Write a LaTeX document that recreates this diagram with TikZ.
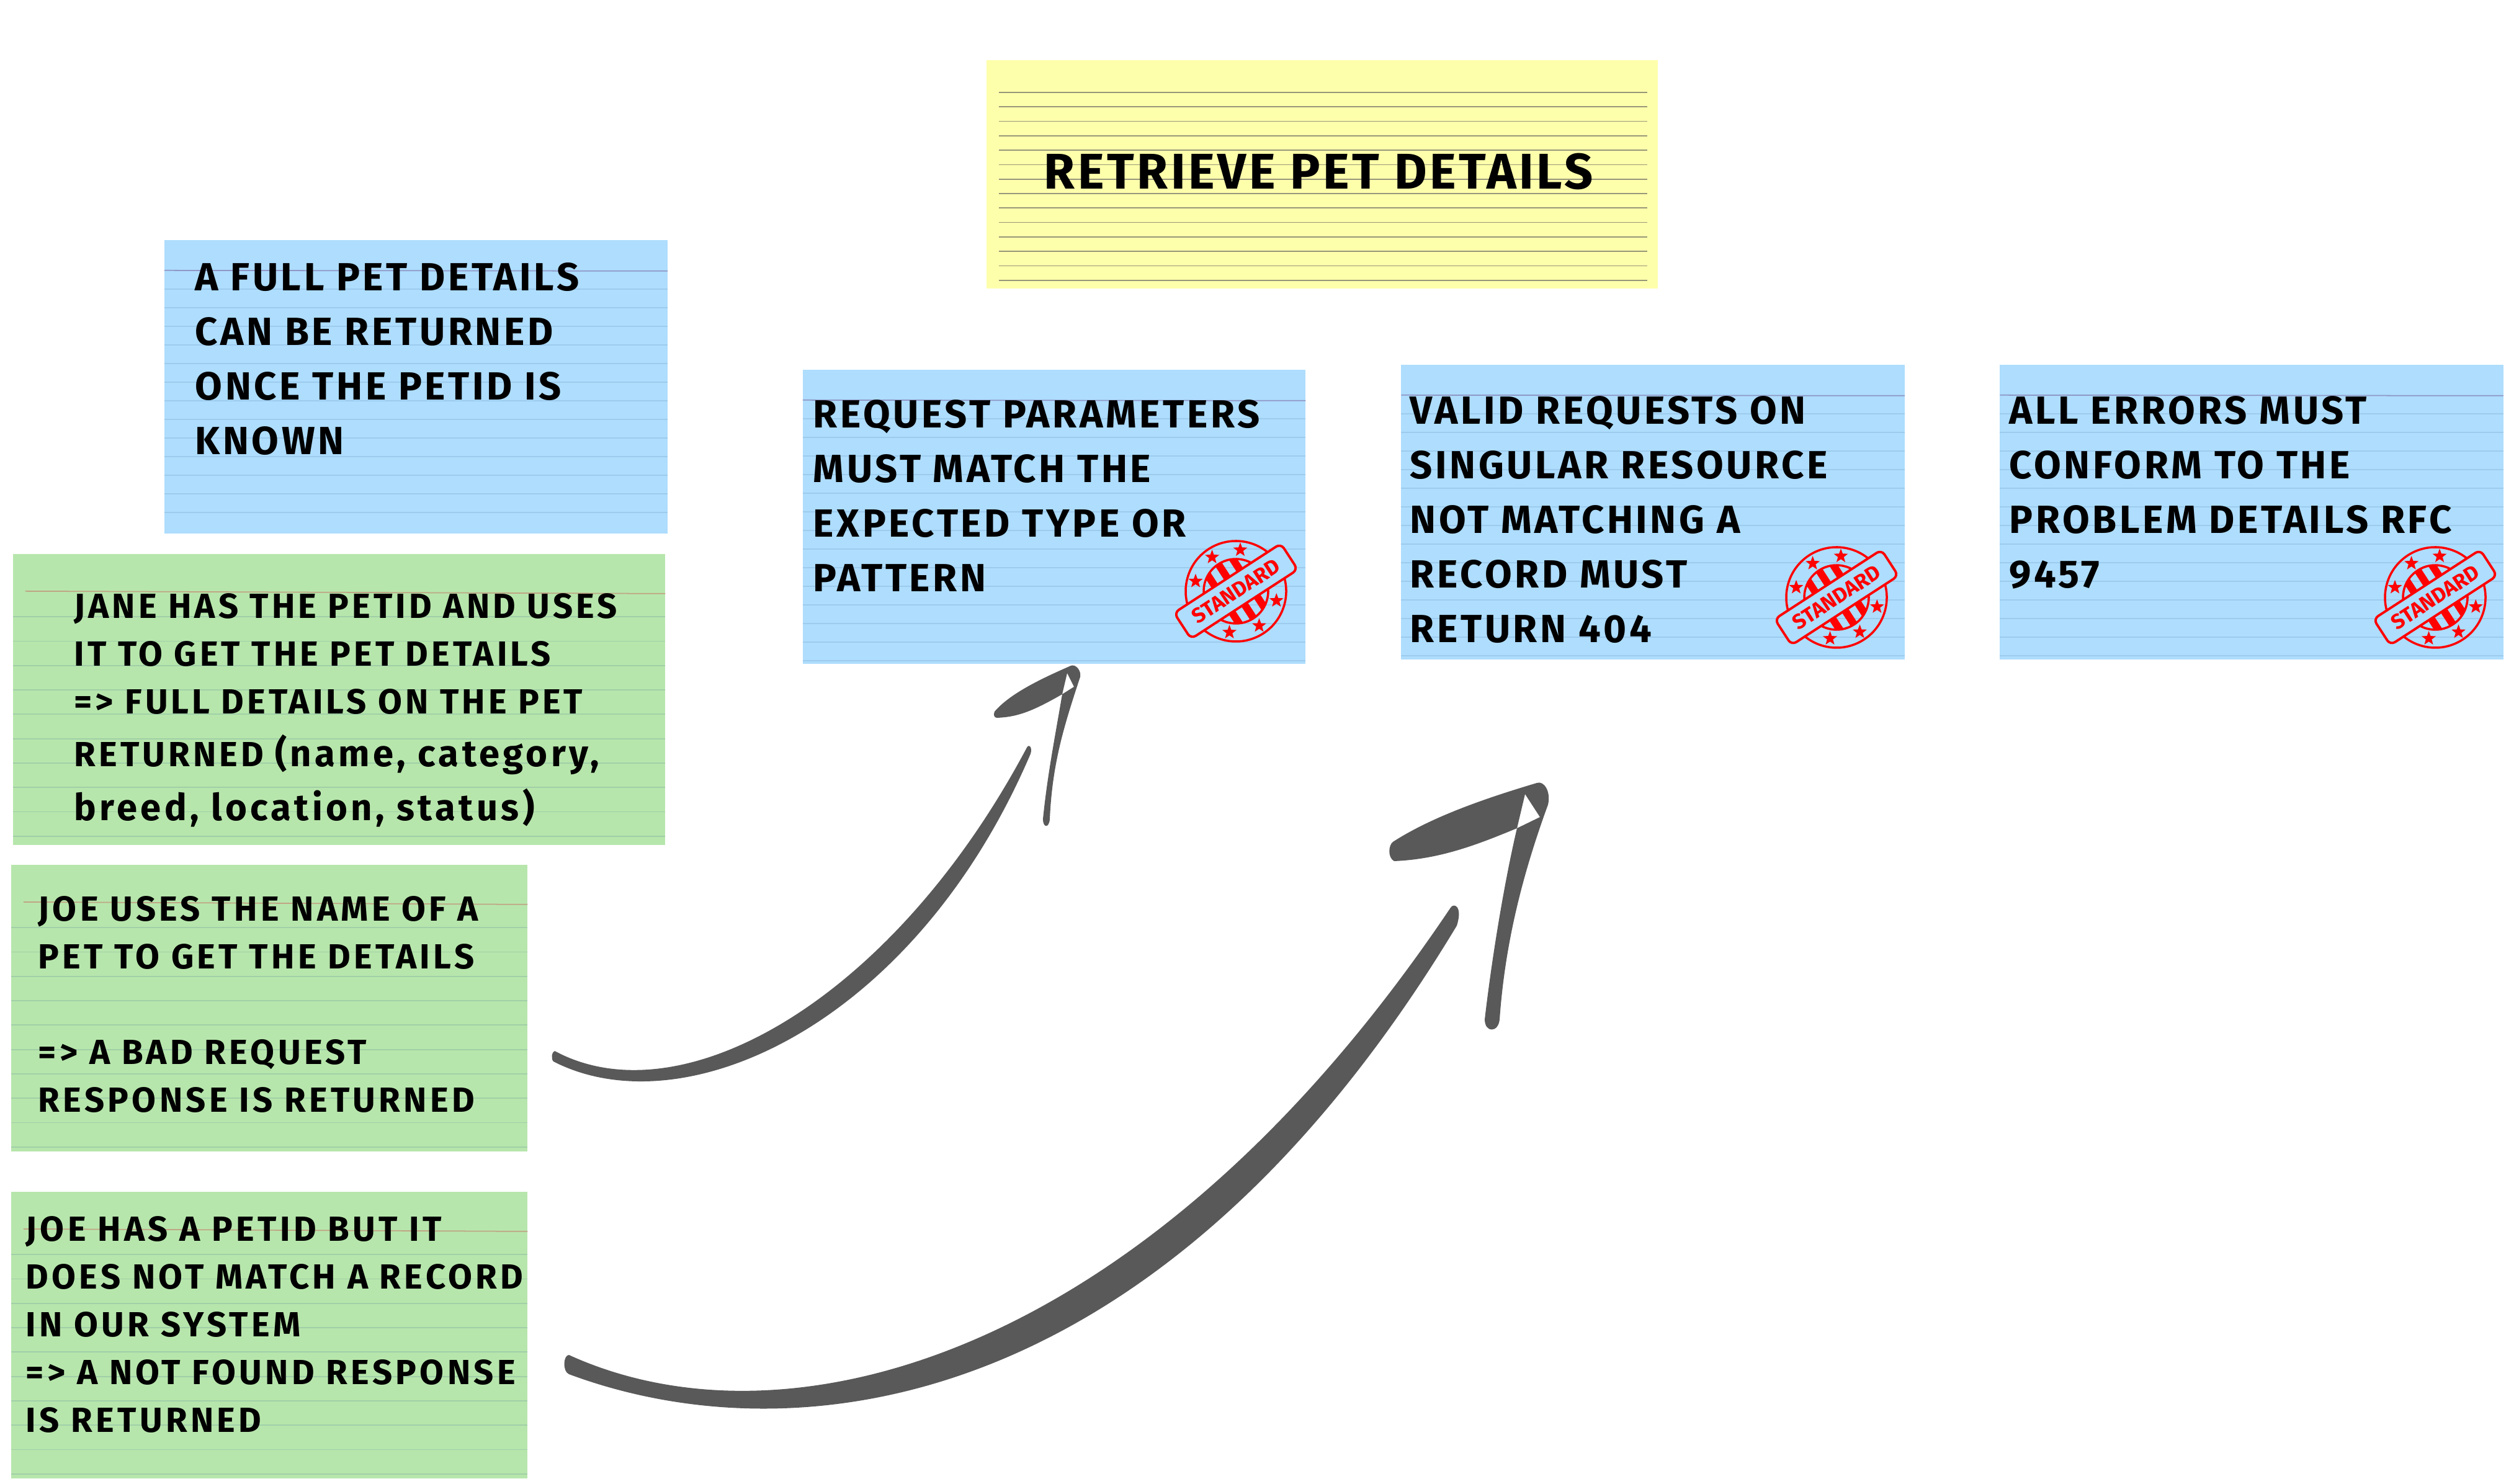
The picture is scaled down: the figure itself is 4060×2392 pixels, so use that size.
\documentclass[tikz,border=0pt]{standalone}
\usepackage{fontspec}
\setmainfont{Fira Sans}
\usetikzlibrary{calc,shapes.geometric}
\definecolor{cardyellow}{HTML}{FEFFAB}
\definecolor{cardyellowline}{HTML}{96967A}
\definecolor{cardblue}{HTML}{AEDDFD}
\definecolor{cardblueline}{HTML}{9CCBEE}
\definecolor{cardbluetop}{HTML}{8F97C6}
\definecolor{cardgreen}{HTML}{B7E6AC}
\definecolor{cardgreenline}{HTML}{A0CFA8}
\definecolor{cardgreentop}{HTML}{BFA584}
\definecolor{arrowgrey}{HTML}{595959}
\definecolor{stampred}{HTML}{FF0000}

\begin{document}
\begin{tikzpicture}[
  x=0.01cm, y=0.01cm,
  bluecard/.style={fill=cardblue, inner sep=0pt, outer sep=0pt, minimum width=8.11cm, minimum height=4.74cm},
  greencard/.style={fill=cardgreen, inner sep=0pt, outer sep=0pt, minimum width=8.32cm, minimum height=4.62cm},
  yellowcard/.style={fill=cardyellow, inner sep=0pt, outer sep=0pt, minimum width=10.82cm, minimum height=3.68cm},
  rule/.style={line width=0.5pt},
  bluerule/.style={rule, cardblueline},
  greenrule/.style={rule, cardgreenline},
  yellowrule/.style={rule, cardyellowline},
  note/.style={anchor=north west, align=left, inner sep=0pt},
  bluenote/.style={note, font=\fontsize{18}{25}\selectfont\bfseries\addfontfeature{LetterSpace=7.3}},
  janenote/.style={note, font=\fontsize{16}{21.9}\selectfont\bfseries\addfontfeature{LetterSpace=9}},
  joenote/.style={note, font=\fontsize{16}{21.9}\selectfont\bfseries\addfontfeature{LetterSpace=9.5}},
  titlenote/.style={note, font=\fontsize{23}{28}\selectfont\bfseries\addfontfeature{LetterSpace=5.7}},
  arrowink/.style={fill=arrowgrey},
  stampline/.style={draw=stampred, line width=1pt},
  stampband/.style={draw=stampred, line width=1.1pt, fill=cardblue, text=stampred, rotate=33, rounded corners=0.09cm,
                    minimum width=2.05cm, minimum height=0.5cm, inner sep=0pt, font=\fontsize{9.6}{11}\selectfont\bfseries},
  stampstar/.style={star, star points=5, star point ratio=2.4, fill=stampred, inner sep=0pt, minimum size=0.24cm}
]
\useasboundingbox (0,0) rectangle (4060,-2392);
% ----- cards -----
\node[yellowcard] (titlecard) at (2131,-281) {};
\node[bluecard, minimum height=4.73cm] (fullcard)  at (670.5,-623.5) {};
\node[bluecard, minimum width=8.10cm] (reqcard)   at (1699,-833) {};
\node[bluecard, minimum height=4.75cm] (validcard) at (2664,-825.5) {};
\node[bluecard, minimum height=4.75cm] (errcard)   at (3629,-825.5) {};
\node[greencard, minimum width=10.51cm, minimum height=4.69cm] (janecard) at (546.5,-1127.5) {};
\node[greencard] (badcard)   at (434,-1625) {};
\node[greencard] (foundcard) at (434,-2152) {};
% ----- ruled lines -----
\foreach \k in {0,...,13}{
  \draw[yellowrule] ($(titlecard.north west)+(20,-52-23.3*\k)$) -- ($(titlecard.north east)+(-17,-52-23.3*\k)$);
}
\foreach \c/\n in {fullcard/13, reqcard/14, validcard/14, errcard/14}{
  \draw[rule, cardbluetop] ($(\c.north west)+(0,-49)$) -- ($(\c.north east)+(0,-50)$);
  \foreach \k in {1,...,\n}{
    \draw[bluerule] ($(\c.north west)+(0,-49-30*\k)$) -- ($(\c.north east)+(0,-49-30*\k)$);
  }
}
\foreach \c in {janecard, badcard, foundcard}{
  \draw[rule, cardgreentop] ($(\c.north west)+(20,-60)$) -- ($(\c.north east)+(0,-64)$);
  \foreach \k in {1,...,10}{
    \draw[greenrule] ($(\c.north west)+(0,-62-39.3*\k)$) -- ($(\c.north east)+(0,-62-39.3*\k)$);
  }
}
% ----- card texts -----
\node[titlenote] (titletext) at (1682,-246) {RETRIEVE PET DETAILS};
\node[bluenote] (fulltext) at (314,-423) {A FULL PET DETAILS\\CAN BE RETURNED\\ONCE THE PETID IS\\KNOWN};
\node[bluenote] (reqtext) at (1310,-644) {REQUEST PARAMETERS\\MUST MATCH THE\\EXPECTED TYPE OR\\PATTERN};
\node[bluenote] (validtext) at (2272,-638) {VALID REQUESTS ON\\SINGULAR RESOURCE\\NOT MATCHING A\\RECORD MUST\\RETURN 404};
\node[bluenote] (errtext) at (3238,-638) {ALL ERRORS MUST\\CONFORM TO THE\\PROBLEM DETAILS RFC\\9457};
\node[janenote] (janetext) at (119,-956) {JANE HAS THE PETID AND USES\\IT TO GET THE PET DETAILS\\=> FULL DETAILS ON THE PET\\[2.3pt]RETURNED {\fontsize{17}{21.9}\selectfont (name, category,}\\[2.8pt]{\fontsize{17}{21.9}\selectfont breed, location, status)}};
\node[joenote] (badtext) at (61,-1444) {JOE USES THE NAME OF A\\PET TO GET THE DETAILS\\[\baselineskip]=> A BAD REQUEST\\RESPONSE IS RETURNED};
\node[joenote] (foundtext) at (41,-1960) {JOE HAS A PETID BUT IT\\DOES NOT MATCH A RECORD\\IN OUR SYSTEM\\=> A NOT FOUND RESPONSE\\IS RETURNED};
% ----- standard stamps -----
\foreach \c/\cx/\cy in {req/1992/-953, valid/2960/-963, err/3925/-963}{
  \begin{scope}[shift={(\cx,\cy)}, rotate=33]
    \draw[stampline] (0,0) circle[radius=81];
    \begin{scope}
      \clip (0,0) circle[radius=52];
      \foreach \sx in {-48,-24,0,24,48}{\fill[stampred] (\sx-6,-60) rectangle (\sx+6,60);}
    \end{scope}
    \draw[stampline] (0,0) circle[radius=52];
    \foreach \a in {51,92,133,228,271,314}{\node[stampstar] (star\c\a) at (\a:67) {};}
    \node[stampband] (stamp\c) at (0,0) {STANDARD};
  \end{scope}
}
% ----- arrow from the bad request note -----
\coordinate (smalltail) at (894,-1694);
\coordinate (smalltip) at (1655,-1205);
\fill[arrowink] (smalltail) .. controls (1100,-1805) and (1440,-1610) .. (smalltip)
  .. controls (1659,-1198) and (1664,-1205) .. (1661,-1215)
  .. controls (1475,-1650) and (1105,-1820) .. (892,-1711)
  .. controls (888,-1707) and (889,-1696) .. (smalltail) -- cycle;
\fill[arrowink, even odd rule] (1692,-1320) .. controls (1696,-1230) and (1715,-1170) .. (1741,-1091)
  .. controls (1743,-1080) and (1733,-1070) .. (1726,-1073)
  .. controls (1690,-1089) and (1630,-1115) .. (1603,-1147)
  .. controls (1601,-1152) and (1602,-1156) .. (1606,-1157)
  .. controls (1640,-1156) and (1665,-1146) .. (1712,-1119)
  .. controls (1700,-1190) and (1688,-1250) .. (1681,-1320)
  .. controls (1681,-1335) and (1691,-1335) .. (1692,-1320) -- cycle
  (1720,-1085) -- (1731,-1107) -- (1712,-1119) -- cycle;
% ----- arrow from the not found note -----
\coordinate (bigtail) at (917,-2184);
\coordinate (bigtip) at (2338,-1463);
\fill[arrowink] (bigtail) .. controls (1270,-2345) and (1850,-2190) .. (bigtip)
  .. controls (2343,-1455) and (2358,-1460) .. (2348,-1492)
  .. controls (1870,-2285) and (1280,-2350) .. (917,-2215)
  .. controls (906,-2210) and (908,-2184) .. (bigtail) -- cycle;
\fill[arrowink, even odd rule] (2417,-1643) .. controls (2425,-1530) and (2450,-1420) .. (2495,-1297)
  .. controls (2500,-1275) and (2488,-1258) .. (2477,-1262)
  .. controls (2400,-1285) and (2310,-1315) .. (2245,-1357)
  .. controls (2238,-1362) and (2236,-1382) .. (2247,-1388)
  .. controls (2320,-1385) and (2380,-1362) .. (2445,-1335)
  .. controls (2425,-1420) and (2405,-1540) .. (2393,-1643)
  .. controls (2393,-1665) and (2415,-1665) .. (2417,-1643) -- cycle
  (2458,-1280) -- (2482,-1317) -- (2445,-1335) -- cycle;
\end{tikzpicture}
\end{document}
